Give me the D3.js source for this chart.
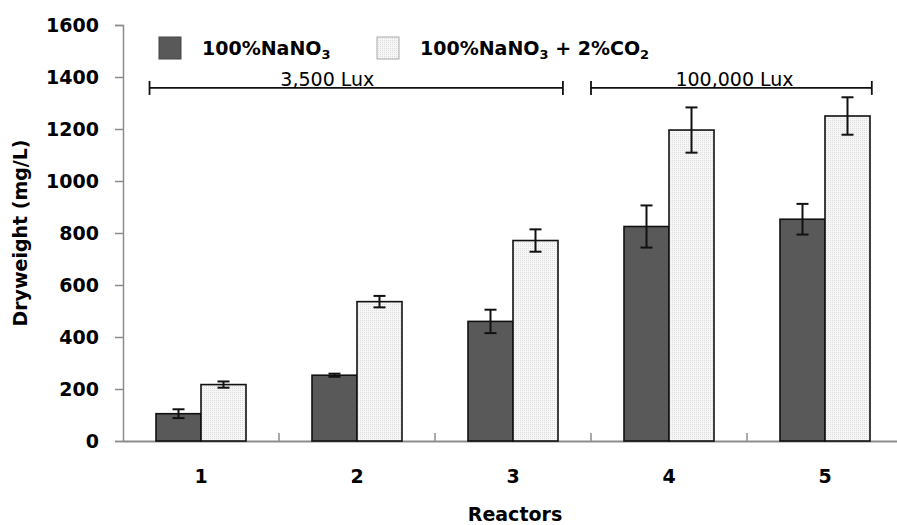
<!DOCTYPE html>
<html>
<head>
<meta charset="utf-8">
<script src="https://cdn.jsdelivr.net/npm/d3@7"></script>
<style>
  body { margin: 0; background: #fff; }
  svg { display: block; }
  .tk { font-family: "DejaVu Sans", sans-serif; font-weight: bold; font-size: 19px; fill: #000; }
  .lux { font-family: "DejaVu Sans", sans-serif; font-size: 19px; fill: #000; }
</style>
</head>
<body>
<svg id="chart" width="897" height="525"></svg>
<script>
const reactors = ['1', '2', '3', '4', '5'];
const seriesNames = ['100%NaNO3', '100%NaNO3 + 2%CO2'];
const nitrate = [105, 253, 460, 825, 853];
const nitrateErr = [17, 6, 45, 81, 59];
const nitrateCo2 = [217, 536, 771, 1196, 1250];
const nitrateCo2Err = [12, 22, 43, 87, 72];
const yTicks = [0, 200, 400, 600, 800, 1000, 1200, 1400, 1600];
const luxGroups = [
  { label: '3,500 Lux', from: -0.33, to: 2.32, at: 0.81 },
  { label: '100,000 Lux', from: 2.5, to: 4.3, at: 3.42 },
];

const svg = d3.select('#chart');
const mLeft = 123, mRight = 903, mTop = 25, mBottom = 441;

const x = d3.scaleBand().domain(reactors).range([mLeft, mRight]).padding(0);
const xPos = d3.scaleLinear().domain([-0.5, reactors.length - 0.5]).range([mLeft, mRight]);
const y = d3.scaleLinear().domain([0, 1600]).range([mBottom, mTop]);
const barW = 45;

const defs = svg.append('defs');
const pat = defs.append('pattern').attr('id', 'dots').attr('patternUnits', 'userSpaceOnUse')
  .attr('width', 2).attr('height', 2);
pat.append('rect').attr('width', 2).attr('height', 2).attr('fill', '#f6f6f6');
pat.append('rect').attr('width', 1).attr('height', 1).attr('fill', '#dedede');

// y axis
const yAxis = svg.append('g').attr('transform', `translate(${mLeft},0)`)
  .call(d3.axisLeft(y).tickValues(yTicks).tickFormat(d3.format('d')).tickSize(8).tickPadding(16));
yAxis.select('.domain').attr('stroke', '#8c8c8c').attr('stroke-width', 1.5);
yAxis.selectAll('.tick line').attr('stroke', '#8c8c8c').attr('stroke-width', 1.5);
yAxis.selectAll('.tick text').attr('class', 'tk').attr('font-size', null).attr('font-family', null);

// x axis
const xAxis = svg.append('g').attr('transform', `translate(0,${mBottom})`)
  .call(d3.axisBottom(x).tickSize(0).tickPadding(29));
xAxis.select('.domain').attr('stroke', '#8c8c8c').attr('stroke-width', 2);
xAxis.selectAll('.tick text').attr('class', 'tk').attr('font-family', null).attr('font-size', null);
svg.append('g').selectAll('line').data(d3.range(1, reactors.length)).join('line')
  .attr('x1', (d) => xPos(d - 0.5)).attr('x2', (d) => xPos(d - 0.5))
  .attr('y1', mBottom).attr('y2', mBottom - 8)
  .attr('stroke', '#8c8c8c').attr('stroke-width', 1.5);

// bars
const series = [
  { vals: nitrate, err: nitrateErr, fill: '#595959', off: -barW },
  { vals: nitrateCo2, err: nitrateCo2Err, fill: 'url(#dots)', off: 0 },
];
series.forEach((s) => {
  const g = svg.append('g');
  g.selectAll('rect').data(s.vals).join('rect')
    .attr('x', (d, i) => x(reactors[i]) + x.bandwidth() / 2 + s.off)
    .attr('y', (d) => y(d))
    .attr('width', barW)
    .attr('height', (d) => mBottom - y(d))
    .attr('fill', s.fill)
    .attr('stroke', '#111').attr('stroke-width', 1.6);
  const eb = svg.append('g').attr('stroke', '#111').attr('stroke-width', 2);
  s.vals.forEach((v, i) => {
    const cx = x(reactors[i]) + x.bandwidth() / 2 + s.off + barW / 2;
    const lo = y(v - s.err[i]), hi = y(v + s.err[i]);
    eb.append('line').attr('x1', cx).attr('x2', cx).attr('y1', lo).attr('y2', hi);
    eb.append('line').attr('x1', cx - 6).attr('x2', cx + 6).attr('y1', lo).attr('y2', lo);
    eb.append('line').attr('x1', cx - 6).attr('x2', cx + 6).attr('y1', hi).attr('y2', hi);
  });
});

// lux brackets
const luxY = y(1358);
luxGroups.forEach((gp) => {
  const g = svg.append('g').attr('stroke', '#111').attr('stroke-width', 1.8);
  g.append('line').attr('x1', xPos(gp.from)).attr('x2', xPos(gp.to)).attr('y1', luxY).attr('y2', luxY);
  [gp.from, gp.to].forEach((p) => {
    g.append('line').attr('x1', xPos(p)).attr('x2', xPos(p)).attr('y1', luxY - 7).attr('y2', luxY + 7);
  });
  svg.append('text').attr('class', 'lux').attr('x', xPos(gp.at)).attr('y', luxY - 2)
    .attr('text-anchor', 'middle').text(gp.label);
});

// legend
const legend = svg.append('g');
const legItems = [
  { x: 159, fill: '#595959', parts: [['100%NaNO', 0], ['3', 1]] },
  { x: 377, fill: 'url(#dots)', parts: [['100%NaNO', 0], ['3', 1], [' + 2%CO', 0], ['2', 1]] },
];
legItems.forEach((it, k) => {
  legend.append('rect').attr('x', it.x).attr('y', 37).attr('width', 22).attr('height', 22)
    .attr('fill', it.fill).attr('stroke', k === 0 ? '#444' : '#aaa').attr('stroke-width', 1);
  const t = legend.append('text').attr('class', 'tk').attr('font-size', 19)
    .attr('x', it.x + 43).attr('y', 55).attr('aria-label', seriesNames[k]);
  it.parts.forEach(([s, sub], j) => {
    t.append('tspan').attr('font-size', sub ? 13 : 19).attr('dy', sub ? 4 : (j === 0 ? 0 : -4)).text(s);
  });
});

// axis titles
svg.append('text').attr('class', 'tk')
  .attr('transform', `translate(27,${(mTop + mBottom) / 2}) rotate(-90)`)
  .attr('text-anchor', 'middle').text('Dryweight (mg/L)');
svg.append('text').attr('class', 'tk')
  .attr('x', (mLeft + mRight) / 2 + 2).attr('y', 521).attr('text-anchor', 'middle').text('Reactors');
</script>
</body>
</html>
